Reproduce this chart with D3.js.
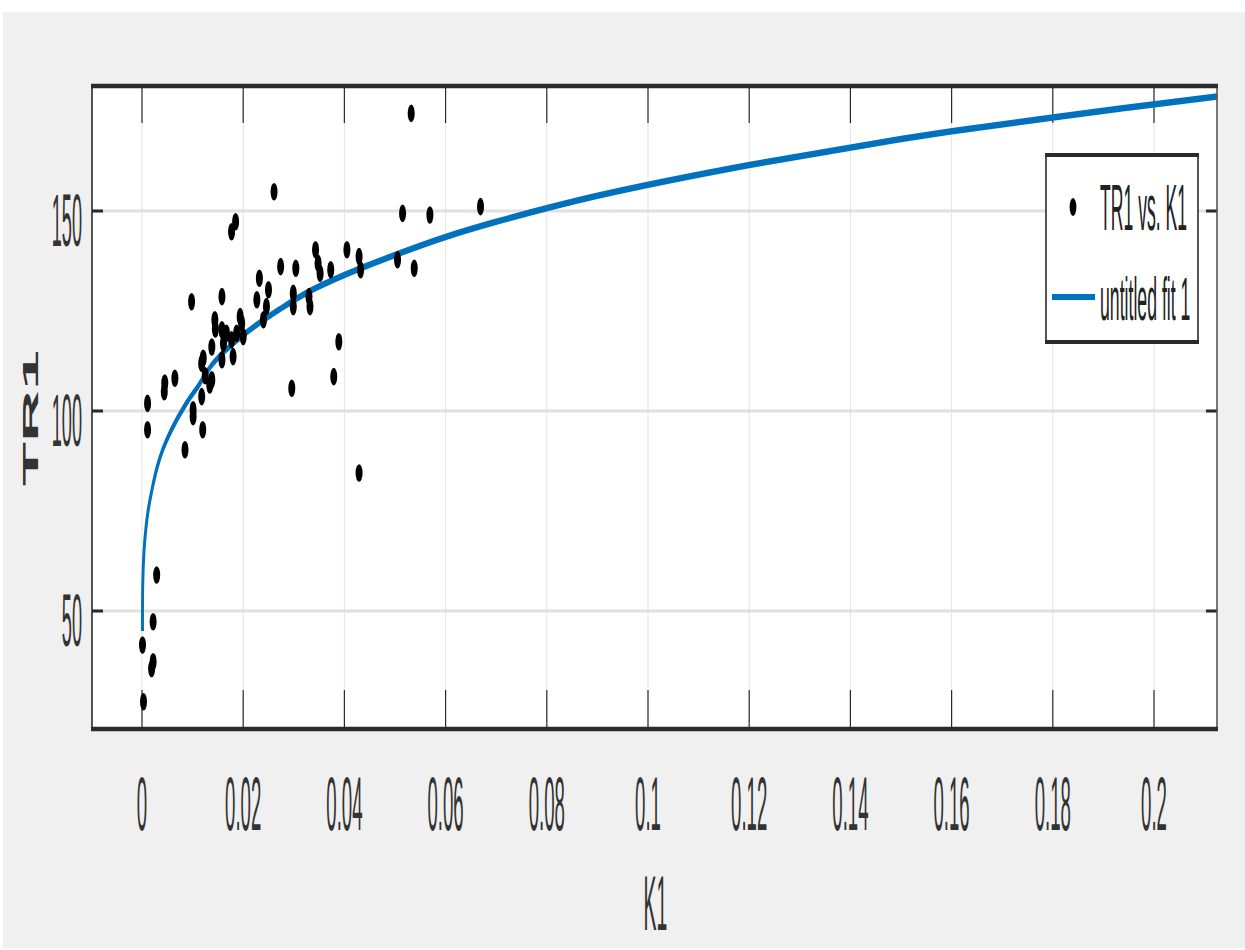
<!DOCTYPE html>
<html>
<head>
<meta charset="utf-8">
<script src="https://cdn.jsdelivr.net/npm/d3@7"></script>
<style>
  html, body { margin: 0; padding: 0; background: #fff; }
  svg { display: block; font-family: "Liberation Sans", Arial, sans-serif; }
</style>
</head>
<body>
<div id="chart-container"></div>
<script>
// scatter data (K1, TR1)
const k1Values = [
  0.0001, 0.0003, 0.0019, 0.0022, 0.0022, 0.0029,
  0.0011, 0.0011, 0.0045, 0.0044, 0.0065, 0.0085, 0.0101, 0.0101, 0.012, 0.0118,
  0.0125, 0.0134, 0.0118, 0.0121, 0.0138, 0.0138, 0.0144, 0.0145, 0.0158, 0.0158,
  0.0161, 0.0167, 0.0177, 0.018, 0.0187, 0.0194, 0.0197, 0.02, 0.0098, 0.0158,
  0.0177, 0.0185, 0.0261, 0.0232, 0.0227, 0.025, 0.0246, 0.024, 0.0274, 0.0299,
  0.0299, 0.0304, 0.0296, 0.033, 0.0332, 0.0343, 0.0348, 0.0352, 0.0373, 0.0389,
  0.0379, 0.0405, 0.0429, 0.0432, 0.0429, 0.0505, 0.0515, 0.0532, 0.0538, 0.0569,
  0.0669
];
const tr1Values = [
  41.5, 27.3, 35.6, 37.3, 47.3, 59,
  101.9, 95.3, 107, 104.8, 108.2, 90.3, 98.6, 100.3, 95.3, 103.6,
  108.8, 106.5, 111.9, 113.2, 107.8, 116, 122.8, 120.5, 112.8, 120.3,
  116.9, 119.4, 117.8, 113.6, 119.4, 123.6, 121.9, 118.6, 127.3, 128.6,
  144.8, 147.3, 154.8, 133.2, 127.8, 130.3, 126.1, 122.8, 136.1, 129.4,
  126.1, 135.7, 105.7, 128.6, 126.1, 140.3, 136.9, 134.4, 135.3, 117.3,
  108.6, 140.3, 138.6, 135.3, 84.5, 137.8, 149.4, 174.4, 135.7, 149,
  151.1
];

// fitted curve "untitled fit 1"
const fitK = [0.0001, 0.00015, 0.0004, 0.0008, 0.0012, 0.002, 0.0029, 0.004, 0.0059, 0.0088,
  0.011, 0.0141, 0.02, 0.0273, 0.0332, 0.04, 0.05, 0.06, 0.07, 0.09, 0.12, 0.15, 0.18, 0.2125];
const fitTR = [45, 56.5, 65, 71, 75, 80.5, 85.5, 90, 95.5, 102,
  106, 112, 119, 125.5, 130, 134, 139, 143.5, 147.3, 153.8, 161.5, 168, 173.4, 178.6];

const xTicks = [0, 0.02, 0.04, 0.06, 0.08, 0.1, 0.12, 0.14, 0.16, 0.18, 0.2];
const xTickLabels = ['0', '0.02', '0.04', '0.06', '0.08', '0.1', '0.12', '0.14', '0.16', '0.18', '0.2'];
const yTicks = [50, 100, 150];
const yTickLabels = ['50', '100', '150'];
const xDomain = [-0.00988, 0.21245];
const yDomain = [20.75, 181];

const legendLabels = ['TR1 vs. K1', 'untitled fit 1'];

const dimensions = { width: 1245, height: 950 };
const plot = { left: 92, right: 1217, top: 87, bottom: 728 };
const textSqueeze = 0.245;   // the picture is squashed sideways
const lineSqueeze = 0.45;
const blue = '#0072bd';
const axisColor = '#2b2b2b';

const x = d3.scaleLinear().domain(xDomain).range([plot.left, plot.right]);
const y = d3.scaleLinear().domain(yDomain).range([plot.bottom, plot.top]);

const svg = d3.select('#chart-container')
  .append('svg')
  .attr('width', dimensions.width)
  .attr('height', dimensions.height);

// figure background
svg.append('rect')
  .attr('x', 3).attr('y', 12)
  .attr('width', dimensions.width - 3).attr('height', dimensions.height - 14)
  .attr('fill', '#f0f0f0');

svg.append('rect')
  .attr('x', plot.left).attr('y', plot.top)
  .attr('width', plot.right - plot.left).attr('height', plot.bottom - plot.top)
  .attr('fill', '#fff');

function squeezedText(parent, px, py, label, size, anchor, sx) {
  return parent.append('text')
    .attr('transform', `translate(${px},${py}) scale(${sx},1)`)
    .attr('text-anchor', anchor)
    .attr('font-size', size)
    .attr('fill', '#333')
    .text(label);
}

function drawGrid() {
  const grid = svg.append('g').attr('class', 'grid');
  grid.selectAll('.vgrid')
    .data(xTicks)
    .join('line')
    .attr('x1', d => x(d)).attr('x2', d => x(d))
    .attr('y1', plot.top).attr('y2', plot.bottom)
    .attr('stroke', '#e3e3e3').attr('stroke-width', 1);
  grid.selectAll('.hgrid')
    .data(yTicks)
    .join('line')
    .attr('x1', plot.left).attr('x2', plot.right)
    .attr('y1', d => y(d)).attr('y2', d => y(d))
    .attr('stroke', '#e0e0e0').attr('stroke-width', 3);
}

function drawX() {
  const axis = svg.append('g').attr('class', 'x-axis');
  // tick marks on top and bottom edges
  axis.selectAll('.tb')
    .data(xTicks)
    .join('line')
    .attr('x1', d => x(d)).attr('x2', d => x(d))
    .attr('y1', plot.bottom).attr('y2', plot.bottom - 38)
    .attr('stroke', axisColor).attr('stroke-width', 1.2);
  axis.selectAll('.tt')
    .data(xTicks)
    .join('line')
    .attr('x1', d => x(d)).attr('x2', d => x(d))
    .attr('y1', plot.top).attr('y2', plot.top + 36)
    .attr('stroke', axisColor).attr('stroke-width', 1.2);
  xTicks.forEach((t, i) => squeezedText(axis, x(t), 830, xTickLabels[i], 76, 'middle', textSqueeze));
  squeezedText(axis, (plot.left + plot.right) / 2 + 1, 930, 'K1', 78, 'middle', 0.25);
}

function drawY() {
  const axis = svg.append('g').attr('class', 'y-axis');
  axis.selectAll('.tl')
    .data(yTicks)
    .join('line')
    .attr('x1', plot.left).attr('x2', plot.left + 11)
    .attr('y1', d => y(d)).attr('y2', d => y(d))
    .attr('stroke', axisColor).attr('stroke-width', 3);
  axis.selectAll('.tr')
    .data(yTicks)
    .join('line')
    .attr('x1', plot.right).attr('x2', plot.right - 11)
    .attr('y1', d => y(d)).attr('y2', d => y(d))
    .attr('stroke', axisColor).attr('stroke-width', 3);
  yTicks.forEach((t, i) => squeezedText(axis, 82, y(t) + 35, yTickLabels[i], 74, 'end', textSqueeze));
  axis.append('text')
    .attr('transform', `translate(38,418) scale(0.3,1) rotate(-90)`)
    .attr('text-anchor', 'middle')
    .attr('font-size', 72)
    .attr('font-weight', 'bold')
    .attr('fill', '#333')
    .text('TR1');
}

function drawBox() {
  const box = svg.append('g').attr('class', 'box');
  box.append('line').attr('x1', plot.left).attr('x2', plot.left)
    .attr('y1', plot.top).attr('y2', plot.bottom)
    .attr('stroke', axisColor).attr('stroke-width', 1.6);
  box.append('line').attr('x1', plot.right).attr('x2', plot.right)
    .attr('y1', plot.top).attr('y2', plot.bottom)
    .attr('stroke', '#555').attr('stroke-width', 1.6);
  box.append('line').attr('x1', plot.left - 1).attr('x2', plot.right + 1)
    .attr('y1', plot.top - 1).attr('y2', plot.top - 1)
    .attr('stroke', axisColor).attr('stroke-width', 4.5);
  box.append('line').attr('x1', plot.left - 1).attr('x2', plot.right + 1)
    .attr('y1', plot.bottom + 1).attr('y2', plot.bottom + 1)
    .attr('stroke', axisColor).attr('stroke-width', 4.5);
}

function drawFit() {
  const pts = fitK.map((k, i) => [x(k) / lineSqueeze, y(fitTR[i])]);
  svg.append('g')
    .attr('transform', `scale(${lineSqueeze},1)`)
    .append('path')
    .attr('d', d3.line().curve(d3.curveCatmullRom.alpha(0.5))(pts))
    .attr('fill', 'none')
    .attr('stroke', blue)
    .attr('stroke-width', 6.5)
    .attr('stroke-linecap', 'butt');
}

function drawPoints() {
  svg.append('g').attr('class', 'points')
    .selectAll('ellipse')
    .data(k1Values.map((k, i) => ({ k, tr: tr1Values[i] })))
    .join('ellipse')
    .attr('cx', d => x(d.k))
    .attr('cy', d => y(d.tr))
    .attr('rx', 3.5)
    .attr('ry', 8.8)
    .attr('fill', '#000');
}

function drawLegend() {
  const lg = svg.append('g').attr('class', 'legend');
  const l = 1046, r = 1198, t = 155, b = 342;
  lg.append('rect').attr('x', l).attr('y', t).attr('width', r - l).attr('height', b - t)
    .attr('fill', '#fff');
  lg.append('line').attr('x1', l).attr('x2', l).attr('y1', t).attr('y2', b)
    .attr('stroke', axisColor).attr('stroke-width', 1.6);
  lg.append('line').attr('x1', r).attr('x2', r).attr('y1', t).attr('y2', b)
    .attr('stroke', axisColor).attr('stroke-width', 1.6);
  lg.append('line').attr('x1', l - 1).attr('x2', r + 1).attr('y1', t).attr('y2', t)
    .attr('stroke', axisColor).attr('stroke-width', 4);
  lg.append('line').attr('x1', l - 1).attr('x2', r + 1).attr('y1', b).attr('y2', b)
    .attr('stroke', axisColor).attr('stroke-width', 4);

  lg.append('ellipse').attr('cx', 1073).attr('cy', 207).attr('rx', 3.4).attr('ry', 9).attr('fill', '#000');
  lg.append('line').attr('x1', 1052).attr('x2', 1095).attr('y1', 297).attr('y2', 297)
    .attr('stroke', blue).attr('stroke-width', 6);

  squeezedText(lg, 1100, 230, legendLabels[0], 64, 'start', 0.275).attr('fill', '#222');
  squeezedText(lg, 1100, 320, legendLabels[1], 62, 'start', 0.285).attr('fill', '#222');
}

drawGrid();
drawX();
drawY();
drawFit();
drawPoints();
drawBox();
drawLegend();
</script>
</body>
</html>
